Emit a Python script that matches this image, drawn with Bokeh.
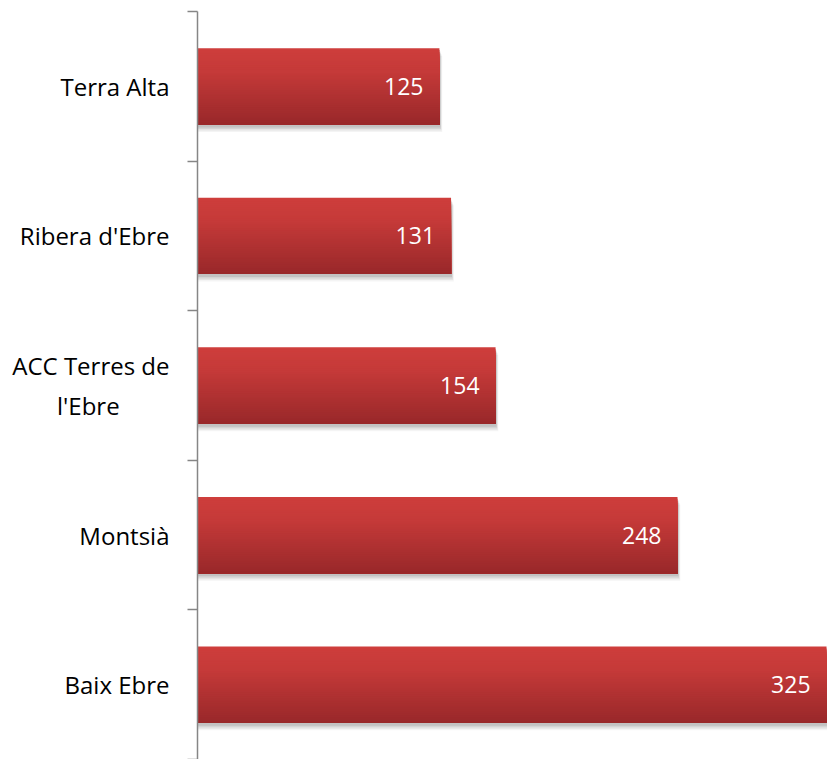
from bokeh.plotting import figure
from bokeh.models import (Range1d, LinearAxis, FixedTicker, CustomJSTickFormatter, ColumnDataSource)
from bokeh.transform import dodge
from bokeh.core.properties import value
from bokeh.embed import file_html
from bokeh.resources import INLINE

# data (bottom to top)
categories = ["Baix Ebre", "Montsià", "ACC Terres de l'Ebre", "Ribera d'Ebre", "Terra Alta"]
values = [325, 248, 154, 131, 125]
value_labels = [str(v) for v in values]
category_labels = ["Baix Ebre", "Montsià", "ACC Terres de\n        l'Ebre", "Ribera d'Ebre", "Terra Alta"]

ypos = [i + 0.5 for i in range(len(categories))]
src = ColumnDataSource(dict(cat=categories, y=ypos, val=values, lab=value_labels))

p = figure(width=827, height=759, y_range=Range1d(0, len(categories)),
           x_range=Range1d(0, 325.5), output_backend="svg", toolbar_location=None,
           x_axis_location=None, y_axis_location=None,
           min_border_left=197, min_border_right=0, min_border_top=11, min_border_bottom=0)
p.outline_line_color = None
p.xgrid.visible = False
p.ygrid.visible = False
p.background_fill_color = "white"
p.border_fill_color = "white"

# inner axis: line and band boundary ticks
tick_ax = LinearAxis(ticker=FixedTicker(ticks=list(range(len(categories) + 1)), minor_ticks=[]),
                     formatter=CustomJSTickFormatter(code="return ''"),
                     axis_line_color="#868686", axis_line_width=1.5,
                     major_tick_line_color="#868686", major_tick_line_width=1.5,
                     major_tick_in=0, major_tick_out=10, minor_tick_line_color=None,
                     major_label_standoff=0, major_label_text_font_size="1px")
p.add_layout(tick_ax, "left")
# outer axis: category labels
cat_ax = LinearAxis(ticker=FixedTicker(ticks=ypos, minor_ticks=[]),
                    axis_line_color=None, major_tick_line_color=None, minor_tick_line_color=None,
                    major_tick_in=0, major_tick_out=0,
                    major_label_standoff=18,
                    major_label_text_font="Open Sans", major_label_text_font_size="24px",
                    major_label_text_color="black",
                    major_label_overrides={y: l for y, l in zip(ypos, category_labels)})
p.add_layout(cat_ax, "left")

bar_h = 0.51
# soft shadow (below and slightly to the right)
for dy, dx, a in [(-0.05, 1.4, 0.06), (-0.04, 1.1, 0.08), (-0.03, 0.8, 0.10), (-0.02, 0.5, 0.12)]:
    p.hbar(y=dodge("y", dy), height=bar_h, left=0, right=dodge("val", dx),
           source=src, fill_color="#444444", fill_alpha=a, line_color=None)

# gradient bar: layered strips, each reaching the bar bottom (no seams)
top = (206, 62, 60)
mid = (197, 58, 57)
bot = (152, 40, 42)
N = 40
for k in range(N):
    t = k / N  # 0 = top, 1 = bottom
    if t < 0.3:
        f = t / 0.3
        c = tuple(int(top[j] + (mid[j] - top[j]) * f) for j in range(3))
    else:
        f = (t - 0.3) / 0.7
        c = tuple(int(mid[j] + (bot[j] - mid[j]) * f) for j in range(3))
    strip_top = bar_h / 2 - k * bar_h / N
    h = strip_top + bar_h / 2
    center = strip_top - h / 2
    p.hbar(y=dodge("y", center), height=h, left=0, right="val",
           source=src, fill_color="#%02x%02x%02x" % c, line_color=None)

p.text(x="val", y="y", text="lab", source=src,
       text_align="right", text_baseline="middle", x_offset=-16,
       text_font=value("Open Sans"), text_font_size="23px", text_color="white")

open("out.html", "w").write(file_html(p, INLINE))
